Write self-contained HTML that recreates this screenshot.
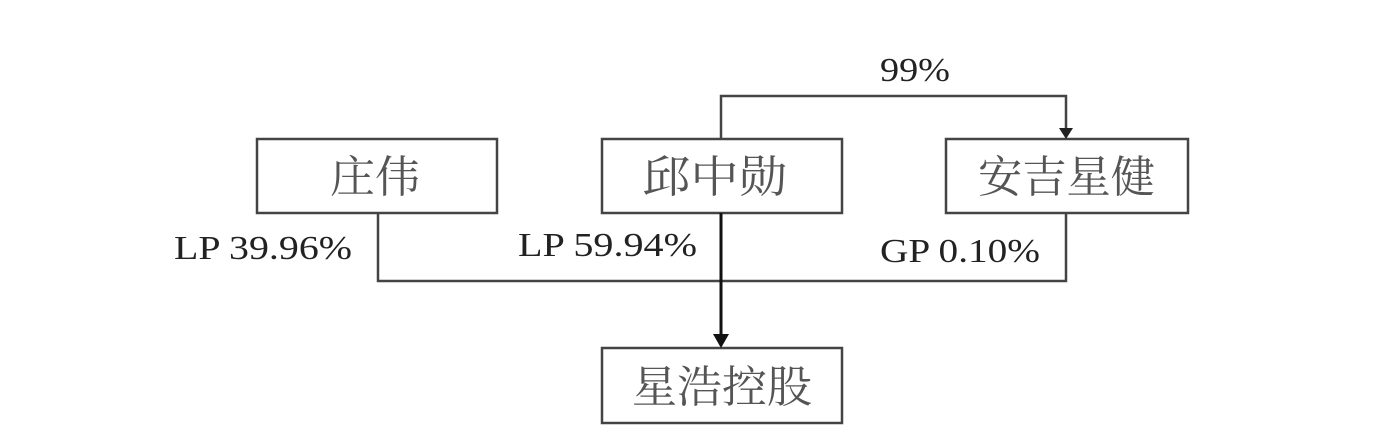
<!DOCTYPE html>
<html><head><meta charset="utf-8"><style>
html,body{margin:0;padding:0;background:#fff;}
svg{display:block;}
.cn{font-family:"Liberation Serif","Noto Serif CJK SC","Noto Sans CJK SC",serif;font-size:44px;fill:#555;}
.lb{font-family:"Liberation Serif",serif;font-size:34px;fill:#222;}
</style></head><body>
<svg width="1397" height="448" viewBox="0 0 1397 448" xmlns="http://www.w3.org/2000/svg">
<g fill="none" stroke="#444" stroke-width="2.5">
<rect x="257" y="139" width="240" height="74"/>
<rect x="602" y="139" width="240" height="74"/>
<rect x="946" y="139" width="242" height="74"/>
<rect x="602" y="348" width="240" height="75"/>
<polyline points="721,139 721,96 1066,96 1066,130"/>
<polyline points="378,213 378,281 1066,281 1066,213"/>
</g>
<line x1="721" y1="213" x2="721" y2="338" stroke="#111" stroke-width="3"/>
<polygon points="713,334 729,334 721,348" fill="#111"/>
<polygon points="1059,128 1073,128 1066,139" fill="#222"/>
<text class="cn" x="330" y="192" textLength="90" lengthAdjust="spacingAndGlyphs">庄伟</text>
<text class="cn" x="642" y="192" textLength="145" lengthAdjust="spacingAndGlyphs">邱中勋</text>
<text class="cn" x="978" y="192" textLength="177" lengthAdjust="spacingAndGlyphs">安吉星健</text>
<text class="cn" x="632" y="402" textLength="180" lengthAdjust="spacingAndGlyphs">星浩控股</text>
<text class="lb" x="880" y="81" textLength="70" lengthAdjust="spacingAndGlyphs">99%</text>
<text class="lb" x="174" y="259" textLength="178" lengthAdjust="spacingAndGlyphs">LP 39.96%</text>
<text class="lb" x="518" y="256" textLength="179" lengthAdjust="spacingAndGlyphs">LP 59.94%</text>
<text class="lb" x="880" y="262" textLength="160" lengthAdjust="spacingAndGlyphs">GP 0.10%</text>
</svg>
</body></html>
